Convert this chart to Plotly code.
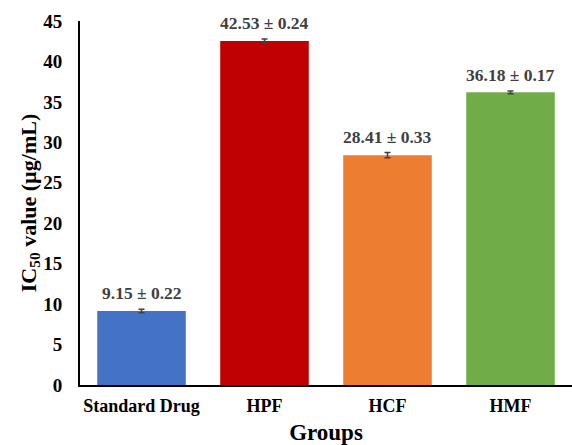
import plotly.graph_objects as go

groups = ["Standard Drug", "HPF", "HCF", "HMF"]
ic50 = [9.15, 42.53, 28.41, 36.18]
sd = [0.22, 0.24, 0.33, 0.17]
colors = ["#4472C4", "#C00000", "#ED7D31", "#70AD47"]
y_ticks = [0, 5, 10, 15, 20, 25, 30, 35, 40, 45]

font_family = "Liberation Serif, Times New Roman, serif"

fig = go.Figure()
fig.add_trace(go.Bar(
    x=groups, y=ic50,
    marker=dict(color=colors, line=dict(width=0)),
    width=0.72,
    error_y=dict(type="data", array=sd, visible=True, color="#404040", thickness=1.5, width=3),
    showlegend=False,
))

for g, v, s in zip(groups, ic50, sd):
    fig.add_annotation(
        x=g, y=v + s, text=f"<b>{v:.2f} ± {s:.2f}</b>",
        showarrow=False, yanchor="bottom", yshift=4,
        font=dict(family=font_family, size=17.5, color="#404040"),
    )

fig.update_layout(
    width=572, height=445,
    margin=dict(l=80, r=0, t=21, b=60),
    plot_bgcolor="white", paper_bgcolor="white",
    font=dict(family=font_family, color="black"),
    xaxis=dict(
        title=dict(text="<b>Groups</b>", font=dict(size=23, family=font_family), standoff=12),
        tickfont=dict(size=18, family=font_family),
        ticklabelstandoff=3,
        tickvals=groups, ticktext=[f"<b>{g}</b>" for g in groups],
        showline=True, linecolor="black", linewidth=2, ticks="", showgrid=False,
    ),
    yaxis=dict(
        title=dict(text="<b>IC<sub>50</sub> value (µg/mL)</b>", font=dict(size=22, family=font_family), standoff=1),
        tickfont=dict(size=19, family=font_family),
        ticklabelstandoff=12,
        range=[0, 45], tickvals=y_ticks, ticktext=[f"<b>{t}</b>" for t in y_ticks],
        showline=True, linecolor="black", linewidth=2, ticks="", showgrid=False, zeroline=False,
    ),
)

fig.write_html("out.html", config={"displayModeBar": False},
               post_script="document.body.style.margin='0';")
